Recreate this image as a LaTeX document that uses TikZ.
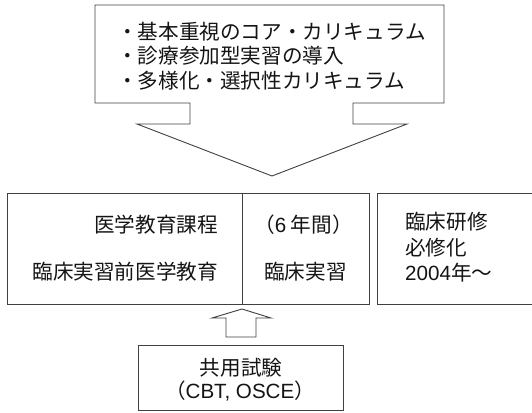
\documentclass[tikz,border=0pt]{standalone}
\usepackage{fontspec}
\setmainfont{Noto Sans CJK JP}
\newfontfamily\latn{Liberation Sans}
\begin{document}
\begin{tikzpicture}[x=1pt,y=-1pt,
  ln/.style={draw=black!75,line width=0.9pt},
  box/.style={ln,rectangle,inner sep=0pt,anchor=north west},
  txt/.style={inner sep=0pt,text=black!92,font=\fontsize{20.6}{25}\selectfont},
]
\useasboundingbox (0,0) rectangle (532,412);
% top callout
\coordinate (tl) at (95,5);
\coordinate (tr) at (444,5);
\coordinate (tip) at (272,176);
\draw[ln,line join=miter] (tl) -- (tr) -- (444,103) -- (353,103) -- (353,124) -- (407,124)
  -- (tip) -- (137,124) -- (190,124) -- (190,103) -- (95,103) -- cycle;
\node[txt,anchor=west] (l1) at (117,32) {・基本重視のコア・カリキュラム};
\node[txt,anchor=west] (l2) at (117,56) {・診療参加型実習の導入};
\node[txt,anchor=west] (l3) at (117,81) {・多様化・選択性カリキュラム};
% main boxes
\node[box,minimum width=235,minimum height=111] (pre) at (7,193) {};
\node[box,minimum width=127,minimum height=111] (cli) at (242,193) {};
\node[box,minimum width=160,minimum height=111] (res) at (377,193) {};
\node[txt,anchor=east] (m1) at (218,225) {医学教育課程};
\node[txt,anchor=east] (m2) at (218,272) {臨床実習前医学教育};
\node[txt,anchor=west] (m3) at (254,225) {（{\latn 6} 年間）};
\node[txt,anchor=west] (m4) at (264,272) {臨床実習};
\node[txt,anchor=west] (r1) at (405,222) {臨床研修};
\node[txt,anchor=west] (r2) at (405,248) {必修化};
\node[txt,anchor=west] (r3) at (405,273) {{\latn 2004}年〜};
% bottom box
\node[box,minimum width=205,minimum height=65] (exam) at (138,345) {};
\node[txt] (e1) at (241,368) {共用試験};
\node[txt] (e2) at (240,391) {（{\latn CBT, OSCE}）};
% up arrow
\draw[ln,line join=miter] (226,337) -- (226,318) -- (212,318) -- (242,309) -- (271,318)
  -- (256,318) -- (256,337) -- cycle;
\end{tikzpicture}
\end{document}
